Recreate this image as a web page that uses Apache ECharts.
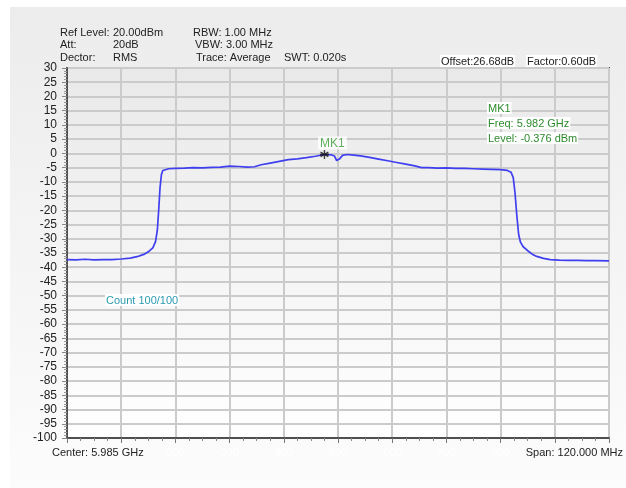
<!DOCTYPE html>
<html>
<head>
<meta charset="utf-8">
<script src="https://cdn.jsdelivr.net/npm/echarts@6/dist/echarts.min.js"></script>
<style>
html,body{margin:0;padding:0;background:#ffffff;}
#chart{width:626px;height:488px;}
</style>
</head>
<body>
<div id="chart"></div>
<script>
// Frequency offset from center (MHz), center 5.985 GHz, span 120 MHz
const freqOffsetMHz = [-60,-58,-56,-54,-52,-50,-48,-46,-44.5,-43,-42,-41,-40.4,-40.0,-39.7,-39.4,-39.1,-38.8,-38.4,-37.5,-36,-34,-32,-30,-28,-26,-24,-22,-20,-18.5,-17,-15,-13,-11,-9,-7,-5,-3,-1.5,-0.8,-0.3,0.3,1,2,3.5,5,7,9,11,13,15,17,18.5,20,22,24,26,28,30,32,34,36,37.5,38.3,38.8,39.2,39.6,40.0,40.4,41,42,43,44,45.5,47,49,51,53,55,57,60];
const levelDbm = [-37.3,-37.4,-37.2,-37.4,-37.3,-37.3,-37.1,-36.8,-36.3,-35.5,-34.6,-33.2,-31,-27,-20,-12,-7.5,-6.0,-5.5,-5.4,-5.3,-5.2,-5.0,-5.1,-4.9,-4.8,-4.5,-4.6,-4.8,-4.7,-4.0,-3.4,-2.8,-2.2,-1.9,-1.5,-1.0,-0.4,-0.5,-0.9,-2.5,-2.0,-0.7,-0.4,-0.6,-0.9,-1.4,-2.0,-2.6,-3.2,-3.8,-4.4,-5.0,-5.0,-5.2,-5.1,-5.3,-5.3,-5.4,-5.5,-5.6,-5.7,-6.0,-6.6,-8.5,-14,-22,-28.5,-31.2,-32.8,-34.2,-35.4,-36.2,-36.9,-37.3,-37.5,-37.6,-37.6,-37.7,-37.7,-37.8];
const markerFreqOffset = [-3];
const markerLevel = [-0.376];
const xTickLabels = ['0','100','200','300','400','500','600','700','800','900','1000'];
const shownXTicks = ['200','300','400','500','600','700','800'];

const font = 'Liberation Sans, Arial, sans-serif';
const chart = echarts.init(document.getElementById('chart'), null, {renderer:'canvas'});

const trace = freqOffsetMHz.map((f,i)=>[f, levelDbm[i]]);
const marker = markerFreqOffset.map((f,i)=>[f, markerLevel[i]]);

function txt(x,y,t,opts){
  return {type:'text', left:x, top:y-6, z:100, style:Object.assign({text:t, fill:'#222', font:'11px '+font}, opts||{})};
}

chart.setOption({
  animation:false,
  backgroundColor:'#ffffff',
  grid:{left:67,right:17,top:68,bottom:50,show:true,borderColor:'#505050',borderWidth:2,
    backgroundColor:new echarts.graphic.LinearGradient(0,0,0,1,[{offset:0,color:'#e9e9e9'},{offset:1,color:'#ffffff'}])},
  xAxis:{type:'value',min:-60,max:60,interval:12,
    axisLine:{show:true,onZero:false,lineStyle:{color:'#505050',width:2}},
    axisTick:{show:true,length:5,lineStyle:{color:'#777'}},
    minorTick:{show:true,splitNumber:4,length:3,lineStyle:{color:'#888'}},
    splitLine:{show:true,lineStyle:{color:'#cbcbcb',width:2}},
    axisLabel:{margin:9,fontFamily:font,fontSize:11,color:'#ffffff',
      formatter:function(v){const s=xTickLabels[Math.round((v+60)/12)];return shownXTicks.indexOf(s)>=0?s:'';}}
  },
  yAxis:{type:'value',min:-100,max:30,interval:5,
    axisLine:{show:true,onZero:false,lineStyle:{color:'#505050',width:2}},
    axisTick:{show:true,length:5,lineStyle:{color:'#888'}},
    minorTick:{show:true,splitNumber:5,length:3,lineStyle:{color:'#999'}},
    splitLine:{show:true,lineStyle:{color:'#cbcbcb',width:2}},
    axisLabel:{margin:10,fontFamily:font,fontSize:12,color:'#222'}
  },
  series:[
    {type:'line',data:trace,showSymbol:false,symbol:'none',lineStyle:{color:'#3f3ff0',width:1.7},z:5},
    {type:'scatter',data:marker,symbol:'path://M0,-6L0,6M-5.2,-3L5.2,3M-5.2,3L5.2,-3M-6,0L6,0',symbolSize:9,
      itemStyle:{color:'none',borderColor:'#111',borderWidth:1.4},z:10,
      label:{show:true,position:'top',distance:-2,offset:[8,0],formatter:'MK1',color:'#3a9a3a',fontFamily:font,fontSize:12,backgroundColor:'#ffffff',padding:[1,2,0,2]}}
  ],
  graphic:[
    {type:'rect',shape:{x:10,y:7,width:616,height:481},z:-10,silent:true,
      style:{fill:new echarts.graphic.LinearGradient(0,0,0,1,[{offset:0,color:'#ececec'},{offset:1,color:'#fcfcfc'}])}},
    txt(60,33,'Ref Level:'),
    txt(113,33,'20.00dBm'),
    txt(193,33,'RBW: 1.00 MHz'),
    txt(60,45,'Att:'),
    txt(113,45,'20dB'),
    txt(195,45,'VBW: 3.00 MHz'),
    txt(60,58,'Dector:'),
    txt(113,58,'RMS'),
    txt(196,58,'Trace: Average'),
    txt(284,58,'SWT: 0.020s'),
    txt(440,61,'Offset:26.68dB',{backgroundColor:'#ffffff',padding:[1,1,0,1]}),
    txt(526,61,'Factor:0.60dB',{backgroundColor:'#ffffff',padding:[1,1,0,1]}),
    txt(487,108,'MK1',{fill:'#2e8b2e',backgroundColor:'#ffffff',padding:[1,1,0,1]}),
    txt(487,123,'Freq: 5.982 GHz',{fill:'#2e8b2e',backgroundColor:'#ffffff',padding:[1,1,0,1]}),
    txt(487,138,'Level: -0.376 dBm',{fill:'#2e8b2e',backgroundColor:'#ffffff',padding:[1,1,0,1]}),
    txt(105,300,'Count 100/100',{fill:'#2a9bb0',backgroundColor:'#ffffff',padding:[1,1,0,1]}),
    txt(52,453,'Center: 5.985 GHz'),
    {type:'text',right:3,top:447,z:100,style:{text:'Span: 120.000 MHz',fill:'#222',font:'11px '+font}}
  ]
});
</script>
</body>
</html>
